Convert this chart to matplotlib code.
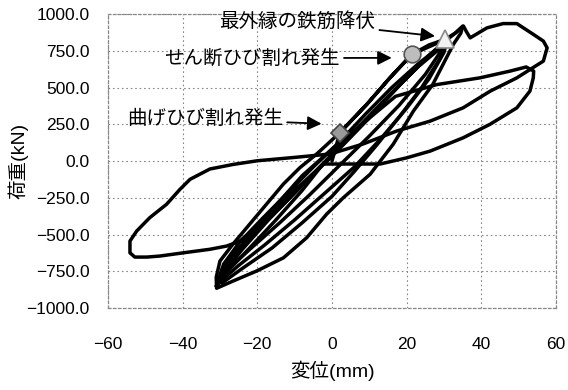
import matplotlib.pyplot as plt

plt.rcParams['font.family'] = ['Liberation Sans', 'Noto Sans CJK JP', 'DejaVu Sans']

# --- data (displacement mm, load kN) ---
# first loading to ~+35 mm and the first +/-30 mm cycle
cyc1_x = [0, 2.1, 9.3, 15.5, 21.4, 26, 30.3, 33, 35,
          34.5, 32.5, 27, 21.8, 16.4, 10.2, 3, -1.4, -6.8, -13, -20.2, -26.5, -30.9,
          -31, -30, -26.5, -22, -17.5, -13, -8.6, -4.1, 2.1, 9.3, 15.5, 21.4, 28, 31]
cyc1_y = [0, 193, 385, 566, 726, 790, 828, 870, 918,
          870, 794, 522, 340, 115, -90, -250, -360, -522, -658, -748, -816, -865,
          -790, -680, -564, -428, -292, -156, -45, 48, 193, 385, 566, 726, 800, 840]

# repeated +/-30 mm cycles inside the bundle
cyc_in_x = [31, 30, 26, 20, 13, 6, -2, -10, -18, -25, -30,
            -29.5, -26, -20, -13, -5, 3, 11, 19, 26, 30.5,
            29.5, 25, 18, 10, 2, -6, -14, -22, -28, -30.5,
            -29, -24, -17, -9, -1, 7, 15, 23, 31]
cyc_in_y = [840, 740, 560, 360, 150, -40, -220, -400, -570, -710, -820,
            -740, -620, -460, -290, -90, 110, 320, 540, 720, 820,
            760, 590, 380, 170, -30, -230, -420, -600, -740, -840,
            -760, -600, -400, -190, 20, 230, 440, 640, 810]

# second +/-30 cycle, then the +50 mm loop
cyc2_x = [31, 29, 24, 18, 12, 6, 0, -8, -16, -24, -29.5,
          -28, -23, -16, -8, 0.3, 8, 17, 28, 39.6, 47.7, 52, 54, 53.9, 53, 49.5,
          42.3, 35.1, 26.3, 20, 12.9, -2.4, -8, -15, -22, -28, -31]
cyc2_y = [840, 700, 500, 300, 110, -70, -240, -420, -590, -730, -830,
          -720, -540, -330, -100, 88, 250, 440, 520, 566, 612, 640, 612, 566, 476, 362,
          250, 158, 68, 22, -20, -20, -200, -400, -590, -750, -850]

# +55 mm loop and the -55 mm loop
cyc3_x = [-31, -29, -25, -19, -12, -5, 2, 9, 16, 23, 28, 31, 33.5, 35.2, 36, 37,
          41.5, 45.8, 49.5, 53.9, 56.6, 57.6, 56.6, 49.5, 42.4, 35.1, 26.3, 17.3, 8.3,
          -0.5, -10, -20, -26.5, -32.7, -38, -40.7, -44.3, -48.8, -52.3, -54.1, -54.1,
          -52.8, -49.6, -46.1, -39.8, -32.7, -28.2, -24.6, -18, -10, -4, 0]
cyc3_y = [-850, -700, -560, -400, -220, -40, 130, 320, 500, 660, 760, 830, 880, 918, 880, 838,
          906, 935, 935, 862, 816, 770, 680, 566, 476, 362, 272, 204, 116,
          48, 25, 2, -23, -54, -124, -192, -294, -385, -476, -544, -624,
          -653, -653, -646, -624, -600, -578, -544, -400, -200, -60, 30]

# event markers
flex_crack = (2.1, 193)     # 曲げひび割れ発生
shear_crack = (21.4, 726)   # せん断ひび割れ発生
rebar_yield = (30.3, 828)   # 最外縁の鉄筋降伏

x_ticks = [-60, -40, -20, 0, 20, 40, 60]
y_ticks = [-1000, -750, -500, -250, 0, 250, 500, 750, 1000]

fig = plt.figure(figsize=(5.68, 3.9), dpi=100)
ax = fig.add_axes([0.190, 0.210, 0.789, 0.754])

for xs, ys in [(cyc1_x, cyc1_y), (cyc_in_x, cyc_in_y), (cyc2_x, cyc2_y), (cyc3_x, cyc3_y)]:
    ax.plot(xs, ys, color='black', linewidth=2.5, solid_joinstyle='round',
            solid_capstyle='round', zorder=3)

ax.plot(*flex_crack, marker='D', markersize=9, markerfacecolor='#9a9a9a',
        markeredgecolor='#444444', markeredgewidth=1.2, zorder=5)
ax.plot(*shear_crack, marker='o', markersize=12, markerfacecolor='#bdbdbd',
        markeredgecolor='#555555', markeredgewidth=1.2, zorder=5)
ax.plot(*rebar_yield, marker='^', markersize=13, markerfacecolor='#f2f2f2',
        markeredgecolor='#888888', markeredgewidth=1.2, zorder=5)

arrow = dict(arrowstyle='-|>', color='black', lw=1.3, mutation_scale=21,
             shrinkA=1, shrinkB=0)
ax.annotate('最外縁の鉄筋降伏', xy=(27.6, 850), xytext=(-9.3, 952),
            ha='center', va='center', fontsize=14, arrowprops=arrow, zorder=6)
ax.annotate('せん断ひび割れ発生', xy=(16.0, 702), xytext=(-21.4, 700),
            ha='center', va='center', fontsize=14, arrowprops=arrow, zorder=6)
ax.annotate('曲げひび割れ発生', xy=(-2.8, 254), xytext=(-34.0, 286),
            ha='center', va='center', fontsize=14, arrowprops=arrow, zorder=6)

ax.set_xlim(-60, 60)
ax.set_ylim(-1000, 1000)
ax.set_xticks(x_ticks)
ax.set_yticks(y_ticks)
ax.set_xticklabels([f"{v}".replace('-', '\u2212') for v in x_ticks])
ax.set_yticklabels([f"{v:.1f}".replace('-', '\u2212') for v in y_ticks])
ax.tick_params(axis='both', length=0, labelsize=12.5)
ax.tick_params(axis='x', pad=21)
ax.tick_params(axis='y', pad=13)

ax.grid(True, linestyle=(0, (1.5, 2.5)), color='#888888', linewidth=0.8)
for s in ax.spines.values():
    s.set_linestyle((0, (2, 2)))
    s.set_color('#888888')
    s.set_linewidth(0.9)

ax.set_xlabel('変位(mm)', fontsize=14, labelpad=6)
ax.set_ylabel('荷重(kN)', fontsize=14)
ax.yaxis.set_label_coords(-0.178, 0.5)

fig.savefig('out.png', dpi=100)
